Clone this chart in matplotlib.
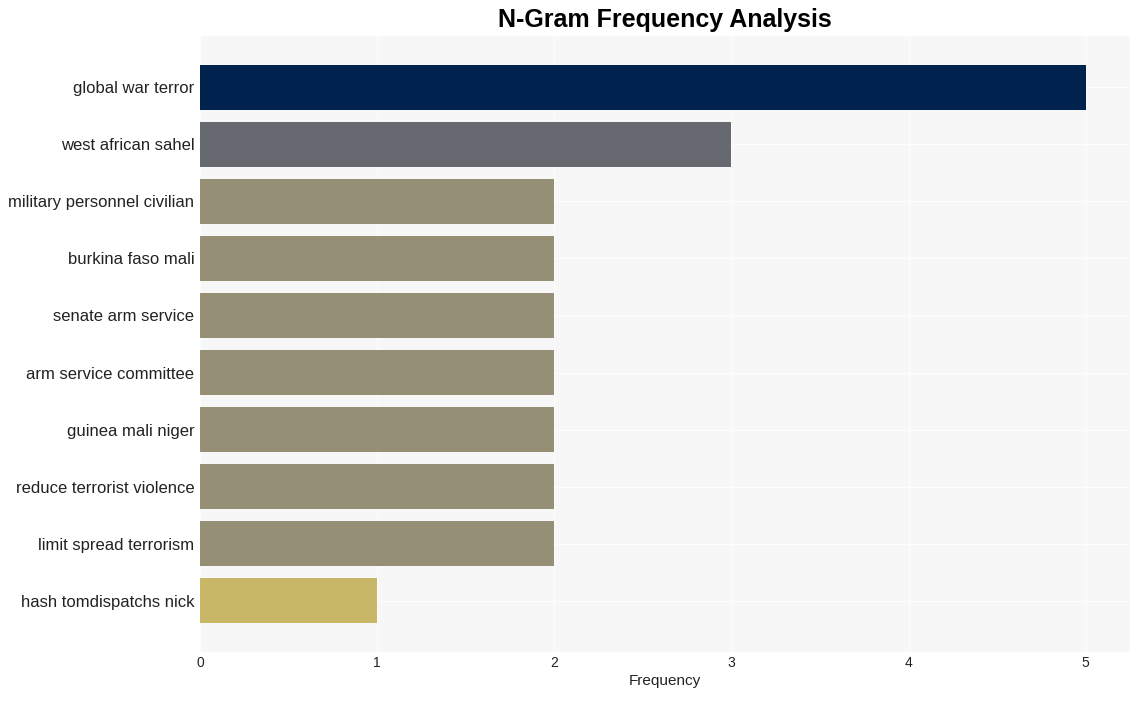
import matplotlib
matplotlib.use("Agg")
import matplotlib.pyplot as plt

# n-gram counts, top to bottom
ngrams = [
    "global war terror",
    "west african sahel",
    "military personnel civilian",
    "burkina faso mali",
    "senate arm service",
    "arm service committee",
    "guinea mali niger",
    "reduce terrorist violence",
    "limit spread terrorism",
    "hash tomdispatchs nick",
]
counts = [5, 3, 2, 2, 2, 2, 2, 2, 2, 1]
bar_colors = ["#00224e", "#666970", "#958f75", "#958f75", "#958f75",
              "#958f75", "#958f75", "#958f75", "#958f75", "#c8b767"]

plt.rcParams['font.family'] = ['Liberation Sans', 'DejaVu Sans']

fig = plt.figure(figsize=(11.4, 7.01), dpi=100)
ax = fig.add_axes([200 / 1140, 1 - 652 / 701, 930 / 1140, 616 / 701])
ax.set_facecolor("#f7f7f7")

ypos = list(range(len(ngrams)))
ax.barh(ypos, counts, height=0.8, color=bar_colors, zorder=2)

ax.set_yticks(ypos)
ax.set_yticklabels(ngrams, fontsize=12, color="#222222")
ax.set_ylim(9.9, -0.9)
ax.set_xlim(0, 5.25)
ax.set_xticks(range(6))
ax.tick_params(axis="x", labelsize=10, colors="#222222", length=0, pad=3)
ax.tick_params(axis="y", length=0, pad=4)

ax.grid(True, color="white", linewidth=0.8, alpha=0.8, zorder=0)
ax.set_axisbelow(True)
for s in ax.spines.values():
    s.set_visible(False)

ax.set_xlabel("Frequency", fontsize=11, color="#222222", labelpad=3)
fig.text(665 / 1140, 1 - 20 / 701, "N-Gram Frequency Analysis",
         ha="center", va="center", fontsize=18, fontweight="bold")

fig.savefig("out.png", dpi=100)
